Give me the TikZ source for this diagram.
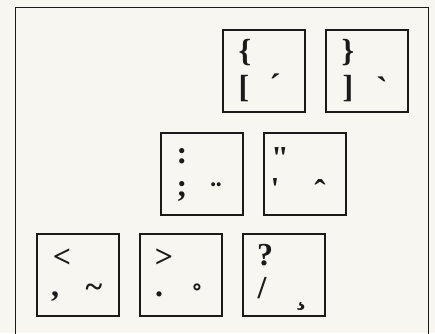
\documentclass[tikz,border=0pt]{standalone}
\usepackage{fontspec}
\setmainfont{Liberation Serif}
\newfontfamily\keyfont{Liberation Serif}[Ligatures=TeXOff]
\usepackage{xcolor}
\definecolor{paper}{HTML}{F7F6F1}
\definecolor{ink}{HTML}{1A1A1A}

\begin{document}
\begin{tikzpicture}[x=1pt, y=-1pt,
  frame/.style={draw=ink, line width=1pt},
  keycap/.style={draw=ink, line width=1.5pt, minimum size=82pt, inner sep=0pt, anchor=north west},
  ch/.style={inner sep=0pt, text=ink, font=\keyfont\bfseries\fontsize{32}{34}\selectfont},
  acc/.style={inner sep=0pt, text=ink, anchor=north, font=\keyfont\bfseries\fontsize{34}{36}\selectfont}]

\fill[paper] (0,0) rectangle (435,333);
\useasboundingbox (0,0) rectangle (435,333);
\draw[frame] (15,340) -- (15,7) -- (428,7) -- (428,340);

% top row
\node[keycap] at (222,29) (kbrace) {};
\node[ch] at ([shift={(23,24)}]kbrace.north west) (braceup) {\{};
\node[ch] at ([shift={(22,60)}]kbrace.north west) (bracelo) {[};
\node[acc] at ([shift={(53,45)}]kbrace.north west) (braceacc) {\char"B4};

\node[keycap] at (325,29) (kclose) {};
\node[ch] at ([shift={(23,24)}]kclose.north west) (closeup) {\}};
\node[ch] at ([shift={(23,60)}]kclose.north west) (closelo) {]};
\node[acc] at ([shift={(57,48)}]kclose.north west) (closeacc) {\char"60};

% middle row
\node[keycap] at (160,132) (kcolon) {};
\node[ch] at ([shift={(22,24)}]kcolon.north west) (colonup) {:};
\node[ch] at ([shift={(22,59)}]kcolon.north west) (colonlo) {;};
\node[acc] at ([shift={(56,51)}]kcolon.north west) (colonacc) {\char"A8};

\node[keycap] at (263,132) (kquote) {};
\node[ch, anchor=north] at ([shift={(17,15)}]kquote.north west) (quoteup) {\char"22};
\node[ch, anchor=north] at ([shift={(12,46)}]kquote.north west) (quotelo) {\char"27};
\node[acc] at ([shift={(57,47)}]kquote.north west) (quoteacc) {\char"2C6};

% bottom row
\node[keycap] at (36,233) (kless) {};
\node[ch] at ([shift={(26,25)}]kless.north west) (lessup) {<};
\node[ch] at ([shift={(19,64)}]kless.north west) (lesslo) {,};
\node[ch, anchor=north] at ([shift={(58,51)}]kless.north west) (lessacc) {\char"7E};

\node[keycap] at (139,233) (kgreater) {};
\node[ch] at ([shift={(25,25)}]kgreater.north west) (greaterup) {>};
\node[ch] at ([shift={(20,61)}]kgreater.north west) (greaterlo) {.};
\node[acc] at ([shift={(58,51)}]kgreater.north west) (greateracc) {\char"2DA};

\node[keycap] at (242,233) (kquery) {};
\node[ch] at ([shift={(23,22)}]kquery.north west) (queryup) {?};
\node[ch] at ([shift={(20,55)}]kquery.north west) (querylo) {/};
\node[acc, anchor=south] at ([shift={(59,78)}]kquery.north west) (queryacc) {\char"B8};
\end{tikzpicture}
\end{document}
